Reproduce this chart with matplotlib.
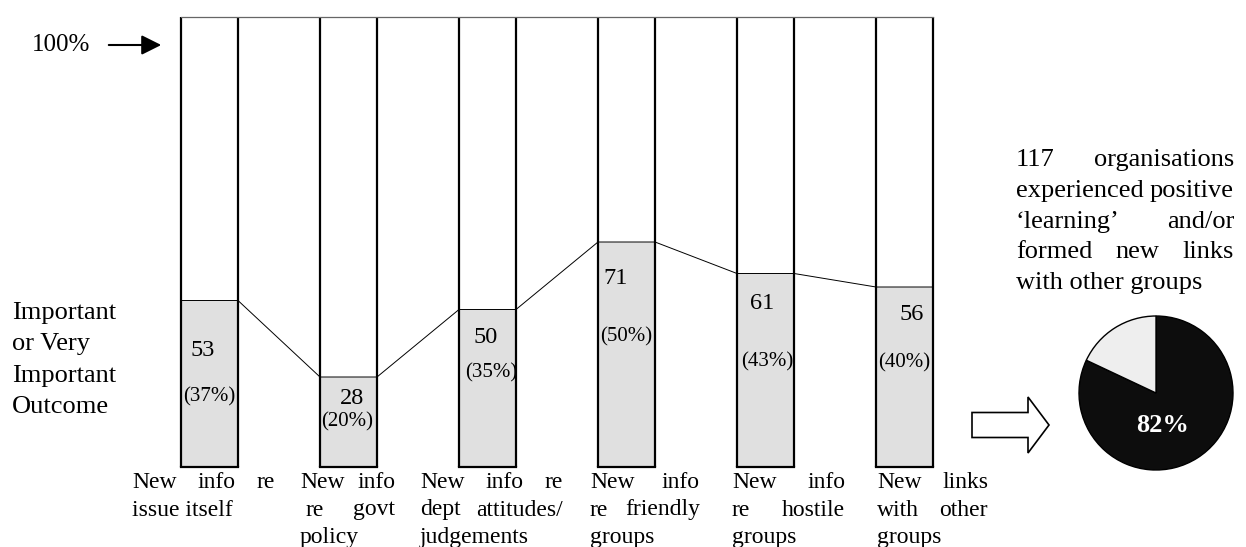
import matplotlib
matplotlib.use("Agg")
import matplotlib.pyplot as plt
from matplotlib.patches import FancyArrow
import numpy as np

plt.rcParams['font.family'] = ['Liberation Serif', 'DejaVu Serif']

# data
categories = [
    ["New info re", "issue itself"],
    ["New info", " re govt", "policy"],
    ["New info re", "dept attitudes/", "judgements"],
    ["New info", "re friendly", "groups"],
    ["New info", "re hostile", "groups"],
    ["New links", "with other", "groups"],
]
counts = [53, 28, 50, 71, 61, 56]
percents = [37, 20, 35, 50, 43, 40]
pie_values = [82, 18]
pie_label = "82%"
side_note = ["117 organisations", "experienced positive",
             "\u2018learning\u2019 and/or", "formed new links",
             "with other groups"]
left_note = ["Important", "or Very", "Important", "Outcome"]

# label placement inside the bars (data units)
count_dx = [-0.05, 0.025, -0.01, -0.08, -0.025, 0.05]
count_y = [25.8, 15.3, 28.7, 42.0, 36.4, 33.8]
pct_dx = [0.0, -0.01, 0.03, 0.0, 0.01, 0.0]
pct_y = [15.6, 10.0, 20.9, 28.9, 23.3, 23.1]
# label columns in pixels (left, right)
col_edges = [(132, 275), (300, 395), (420, 563), (590, 700), (732, 845), (877, 988)]

W_PX, H_PX = 1246, 547
fig = plt.figure(figsize=(W_PX / 100, H_PX / 100), dpi=100)

# main bar panel
ax = fig.add_axes([140 / W_PX, 80 / H_PX, 834 / W_PX, 450 / H_PX])
x = np.arange(len(counts))
w = 0.41
ax.bar(x, percents, width=w, color='#e0e0e0', edgecolor='none', zorder=1)
ax.vlines(np.r_[x - w / 2, x + w / 2], 0, 100, color='black', lw=1.6, zorder=3, clip_on=False)
for xi in x:
    ax.plot([xi - w / 2, xi + w / 2], [0, 0], color='black', lw=1.6, zorder=3,
            clip_on=False, solid_capstyle='projecting')
ax.plot([x[0] - w / 2, x[-1] + w / 2], [100, 100], color='#666666', lw=0.9, zorder=3,
        clip_on=False)

# connecting line across the shaded tops
lx = np.ravel(np.column_stack([x - w / 2, x + w / 2]))
ly = np.repeat(percents, 2)
ax.plot(lx, ly, color='black', lw=0.7, zorder=2)

for i in range(len(counts)):
    ax.text(x[i] + count_dx[i], count_y[i], str(counts[i]), ha='center', va='center',
            fontsize=17.5, zorder=4)
    ax.text(x[i] + pct_dx[i], pct_y[i], f"({percents[i]}%)", ha='center', va='center',
            fontsize=15, zorder=4)

ax.set_xlim(-0.5, len(counts) - 0.5)
ax.set_ylim(0, 100)
ax.axis('off')

# pie, radius about 77 px centred at (1156, 393)
lim = 1.03
side = 154 * lim
pie_ax = fig.add_axes([(1156 - side / 2) / W_PX, (H_PX - 393 - side / 2) / H_PX,
                       side / W_PX, side / H_PX])
pie_ax.pie(pie_values, startangle=90, counterclock=False, colors=['#0d0d0d', '#eeeeee'],
           wedgeprops=dict(edgecolor='black', linewidth=1.0))
pie_ax.text(0.08, -0.42, pie_label, color='white', fontsize=19, fontweight='bold',
            ha='center', va='center')
pie_ax.set_xlim(-lim, lim)
pie_ax.set_ylim(-lim, lim)
pie_ax.set_aspect('equal')

# overlay in pixel coordinates for annotations
ov = fig.add_axes([0, 0, 1, 1])
ov.set_xlim(0, W_PX)
ov.set_ylim(H_PX, 0)
ov.axis('off')

ov.text(32, 45, "100%", fontsize=18, ha='left', va='center')
ov.annotate('', xy=(164, 45), xytext=(106, 45),
            arrowprops=dict(arrowstyle='-|>', color='black', lw=1.5, mutation_scale=30))

for k, line in enumerate(left_note):
    ov.text(12, 313 + k * 31.3, line, fontsize=19, ha='left', va='center')

ov.add_patch(FancyArrow(972, 425, 77, 0, width=25, head_width=56, head_length=21,
                        length_includes_head=True, facecolor='white', edgecolor='black', lw=1.2))

renderer = fig.canvas.get_renderer()


def justify(lines, left, right, y0, step, size):
    for k, line in enumerate(lines):
        y = y0 + k * step
        words = line.split()
        if k == len(lines) - 1 or len(words) == 1:
            ov.text(left, y, line.strip(), fontsize=size, ha='left', va='center')
            continue
        start = left
        if line.startswith(' '):
            sp = ov.text(0, 0, 'a a', fontsize=size)
            sa = ov.text(0, 0, 'aa', fontsize=size)
            start += sp.get_window_extent(renderer).width - sa.get_window_extent(renderer).width
            sp.remove()
            sa.remove()
        ts = [ov.text(0, y, wd, fontsize=size, ha='left', va='center') for wd in words]
        widths = [t.get_window_extent(renderer).width for t in ts]
        gap = (right - start - sum(widths)) / (len(words) - 1)
        xx = start
        for t, wd in zip(ts, widths):
            t.set_x(xx)
            xx += wd + gap


for lines, (l, r) in zip(categories, col_edges):
    justify(lines, l, r, 482, 28, 17)

justify(side_note, 1016, 1234, 160, 30.8, 19)

fig.savefig('out.png', dpi=100)
